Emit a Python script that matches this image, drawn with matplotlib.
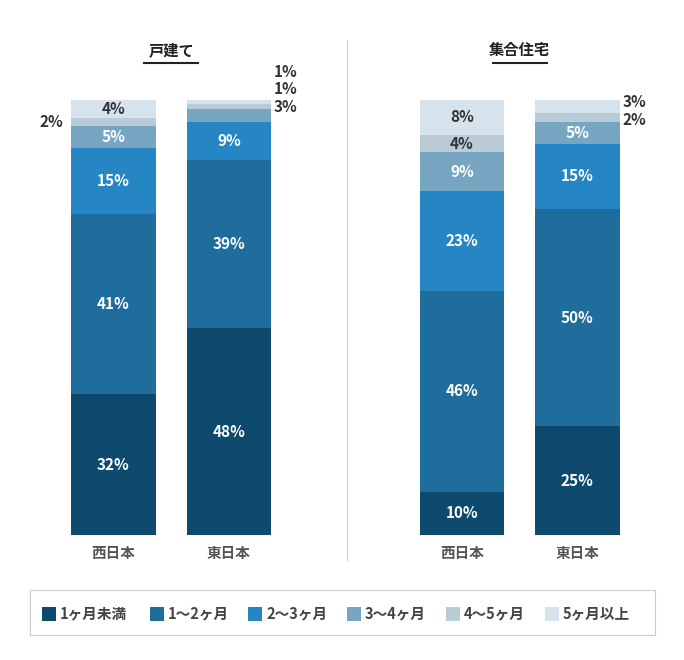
import matplotlib
matplotlib.use("Agg")
import matplotlib.pyplot as plt
from matplotlib.patches import Rectangle
from matplotlib.lines import Line2D

plt.rcParams["font.family"] = "Noto Sans CJK JP"

series = ["1ヶ月未満", "1〜2ヶ月", "2〜3ヶ月", "3〜4ヶ月", "4〜5ヶ月", "5ヶ月以上"]
colors = ["#0d4a6e", "#1f6d9c", "#2586c3", "#77a6c3", "#b9cbd7", "#d7e3ec"]
text_colors = ["white", "white", "white", "white", "#333333", "#333333"]
regions = ["西日本", "東日本"]
panel_titles = ["戸建て", "集合住宅"]
house_west = [32, 41, 15, 5, 2, 4]
house_east = [48, 39, 9, 3, 1, 1]
apt_west = [10, 46, 23, 9, 4, 8]
apt_east = [25, 50, 15, 5, 2, 3]
panels = [[house_west, house_east], [apt_west, apt_east]]

W, H = 684, 660
fig = plt.figure(figsize=(W / 100, H / 100), dpi=100)
bottom_px, top_px = 535, 100
panel_left = [32.5, 381]
span = 2.4 * 115.5

for p, (data, title) in enumerate(zip(panels, panel_titles)):
    ax = fig.add_axes([panel_left[p] / W, (H - bottom_px) / H, span / W, (bottom_px - top_px) / H])
    ax.set_xlim(-0.7, 1.7)
    ax.set_ylim(0, 1)
    ax.axis("off")
    for i, vals in enumerate(data):
        total = sum(vals)
        b = 0
        outside_right = []
        for k, v in enumerate(vals):
            h = v / total
            ax.bar(i, h, bottom=b, width=0.73, color=colors[k], linewidth=0)
            mid = b + h / 2
            if h >= 0.035:
                ax.text(i, mid, f"{v}%", ha="center", va="center", color=text_colors[k],
                        fontsize=11, fontweight="bold")
            else:
                outside_right.append((k, v, mid))
            b += h
        # outside labels
        if outside_right:
            if p == 0 and i == 0:
                for k, v, mid in outside_right:
                    ax.text(-0.43, mid, f"{v}%", ha="right", va="center", color="#333333",
                            fontsize=11, fontweight="bold")
            else:
                n = len(outside_right)
                for j, (k, v, mid) in enumerate(outside_right):
                    y = 1 - 0.0 + (n - 1 - j) * 0.0 - 0.055 + (n - 1 - j) * 0.0
                    ypos = [0.985, 1.025, 1.065][:n]
                    if n == 2:
                        ypos = [0.955, 0.995]
                    ax.text(1.39, ypos[j], f"{v}%", ha="left", va="center", color="#333333",
                            fontsize=11, fontweight="bold", clip_on=False)
        ax.text(i, -0.042, regions[i], ha="center", va="center", color="#555555",
                fontsize=10.5, fontweight="bold")
    cx = (panel_left[p] + span / 2) / W
    fig.text(cx, 1 - 50 / H, title, ha="center", va="center", fontsize=11, fontweight="bold",
             color="#222222")
    fig.add_artist(Line2D([cx - 27 / W, cx + 27 / W], [1 - 63 / H] * 2, color="#222222", lw=1.5))

fig.add_artist(Line2D([347 / W] * 2, [1 - 40 / H, 1 - 560 / H], color="#cccccc", lw=0.8))

# legend
fig.add_artist(Rectangle((30 / W, 1 - 635 / H), 625 / W, 45 / H, fill=False, edgecolor="#cccccc", lw=0.8))
xs = [42, 150, 248, 347, 446, 545]
for x, s, c in zip(xs, series, colors):
    fig.add_artist(Rectangle((x / W, 1 - 621 / H), 14 / W, 14 / H, color=c, lw=0))
    fig.text((x + 18) / W, 1 - 613 / H, s, ha="left", va="center", fontsize=10.5,
             fontweight="bold", color="#444444")

fig.savefig("out.png", dpi=100)
